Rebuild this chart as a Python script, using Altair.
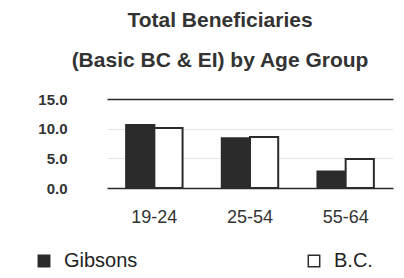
import altair as alt
import pandas as pd

age_groups = ["19-24", "25-54", "55-64"]
series = ["Gibsons", "B.C."]
gibsons = [10.6, 8.4, 2.8]
bc = [10.1, 8.6, 4.9]
y_ticks = [0, 5, 10, 15]

rows = []
for i, g in enumerate(age_groups):
    rows.append({"age": g, "series": "Gibsons", "value": gibsons[i]})
    rows.append({"age": g, "series": "B.C.", "value": bc[i]})
df = pd.DataFrame(rows)

dark = "#2b2b2b"
font = "Liberation Sans"

bars = alt.Chart(df).mark_bar(stroke=dark, strokeWidth=2).encode(
    x=alt.X("age:N", sort=age_groups, title=None,
            scale=alt.Scale(paddingInner=0.41, paddingOuter=0.2),
            axis=alt.Axis(labelAngle=0, labelFontSize=18, labelFont=font,
                          labelColor="#333", labelPadding=20, ticks=False,
                          domainColor=dark, domainWidth=1.5)),
    xOffset=alt.XOffset("series:N", sort=series, scale=alt.Scale(paddingInner=0, paddingOuter=0)),
    y=alt.Y("value:Q", title=None,
            scale=alt.Scale(domain=[0, 15], nice=False),
            axis=alt.Axis(values=y_ticks, format=".1f", labelFontSize=15,
                          labelFont=font, labelFontWeight="bold", labelColor="#333",
                          labelPadding=40, ticks=False, domain=False,
                          gridColor={"condition": {"test": "datum.value == 15", "value": dark},
                                     "value": "#e4e4e4"},
                          gridWidth={"condition": {"test": "datum.value == 15", "value": 1.5},
                                     "value": 1})),
    fill=alt.Fill("series:N", sort=series,
                  scale=alt.Scale(domain=series, range=[dark, "white"]),
                  legend=alt.Legend(title=None, orient="none", legendX=-73, legendY=152,
                                    direction="horizontal", symbolType="square",
                                    symbolSize=130, symbolStrokeColor=dark,
                                    symbolStrokeWidth=1.5, labelFontSize=20,
                                    labelFont=font, labelColor="#222",
                                    labelOffset=10, columnPadding=166)),
)

chart = bars.properties(
    width=286, height=89,
    padding={"left": 99, "top": 91, "right": 3, "bottom": 90},
    autosize=alt.AutoSizeParams(type="none"),
    title=alt.TitleParams(
        text=["Total Beneficiaries", "(Basic BC & EI) by Age Group"],
        fontSize=21, font=font, fontWeight="bold", color="#333",
        lineHeight=40, anchor="middle", dx=-30, offset=21,
    ),
).configure_view(stroke=None)

chart.save("out.html", embed_options={"renderer": "svg", "actions": False})
